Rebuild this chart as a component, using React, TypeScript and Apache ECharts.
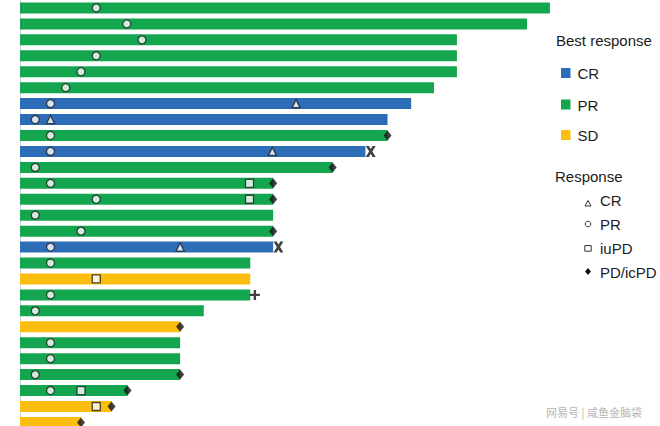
import React, { useEffect, useRef } from "react";
import * as echarts from "echarts";

// Patients (rows, top to bottom)
const patients = Array.from({ length: 27 }, (_, i) => `P${i + 1}`);
// Best overall response per patient
const bestResponse = ["PR","PR","PR","PR","PR","PR","CR","CR","PR","CR","PR","PR","PR","PR","PR","CR","PR","SD","PR","PR","SD","PR","PR","PR","PR","SD","SD"];
// Duration on treatment (months)
const duration = [34.75, 33.25, 28.65, 28.65, 28.65, 27.15, 25.65, 24.1, 24.1, 22.65, 20.5, 16.6, 16.6, 16.6, 16.6, 16.6, 15.1, 15.1, 15.1, 12.05, 10.5, 10.5, 10.5, 10.5, 7.05, 6.0, 4.0];
// Response events (time, null = none)
const prTime = [5, 7, 8, 5, 4, 3, 2, 1, 2, 2, 1, 2, 5, 1, 4, 2, 2, null, 2, 1, null, 2, 2, 1, 2, null, null];
const crTime = [null, null, null, null, null, null, 18.1, 2, null, 16.55, null, null, null, null, null, 10.5, null, null, null, null, null, null, null, null, null, null, null];
const iuPDTime = [null, null, null, null, null, null, null, null, null, null, null, 15.05, 15.05, null, null, null, null, 5, null, null, null, null, null, null, 4, 5, null];
const pdTime = [null, null, null, null, null, null, null, null, 24.1, null, 20.5, 16.6, 16.6, null, 16.6, null, null, null, null, null, 10.5, null, null, 10.5, 7.05, 6.0, 4.0];
const deathTime = [null, null, null, null, null, null, null, null, null, 23.0, null, null, null, null, null, 16.95, null, null, null, null, null, null, null, null, null, null, null];
const otherTime = [null, null, null, null, null, null, null, null, null, null, null, null, null, null, null, null, null, null, 15.4, null, null, null, null, null, null, null, null];

const responseTypes = ["CR", "PR", "SD"];
const colors: Record<string, string> = { CR: "#2d6db8", PR: "#14a64f", SD: "#fbbe0f" };
const markerLegend = ["CR", "PR", "iuPD", "PD/icPD"];

const toPts = (arr: (number | null)[]) =>
  arr.map((v, i) => (v == null ? null : [v, i])).filter((p) => p != null);

const FONT = '"Liberation Sans", Arial, Helvetica, sans-serif';
const TXT = "#1c1c1c";

export default function App() {
  const ref = useRef<HTMLDivElement>(null);
  useEffect(() => {
    const chart = echarts.init(ref.current!, null, { renderer: "svg" });

    const barSeries = responseTypes.map((r) => ({
      type: "bar",
      name: r,
      data: duration.map((d, i) => (bestResponse[i] === r ? d : "-")),
      barWidth: 11,
      barGap: "-100%",
      itemStyle: { color: colors[r] },
      z: 2,
    }));

    const outline = { color: "#ffffff", borderColor: "#1f1f1f", borderWidth: 1.3 };

    const graphic: any[] = [
      { type: "text", x: 556, y: 40, style: { text: "Best response", fontSize: 15, fontFamily: FONT, fill: TXT, verticalAlign: "middle" } },
      { type: "text", x: 555, y: 176, style: { text: "Response", fontSize: 15, fontFamily: FONT, fill: TXT, verticalAlign: "middle" } },
      { type: "text", x: 546, y: 412, style: { text: "网易号 | 咸鱼金脑袋", fontSize: 11, fontFamily: '"Noto Sans CJK SC", sans-serif', fill: "#b5b5b5", verticalAlign: "middle" } },
    ];
    const brY = [73, 104.5, 135];
    responseTypes.forEach((r, k) => {
      graphic.push({ type: "rect", shape: { x: 561, y: brY[k] - 5, width: 9.5, height: 10 }, style: { fill: colors[r] } });
      graphic.push({ type: "text", x: 577.5, y: brY[k] + 0.5, style: { text: r, fontSize: 15, fontFamily: FONT, fill: TXT, verticalAlign: "middle" } });
    });
    const mY = [199.5, 223.5, 248, 272];
    markerLegend.forEach((m, k) => {
      graphic.push({ type: "text", x: 600, y: mY[k] + 0.5, style: { text: m, fontSize: 15, fontFamily: FONT, fill: TXT, verticalAlign: "middle" } });
    });
    const stroke = { fill: "#fff", stroke: "#333", lineWidth: 1 };
    graphic.push({ type: "polygon", shape: { points: [[588, 200.5], [591, 206], [585, 206]] }, style: stroke });
    graphic.push({ type: "circle", shape: { cx: 588, cy: 224, r: 2.8 }, style: stroke });
    graphic.push({ type: "rect", shape: { x: 584.8, y: 245.6, width: 6.4, height: 5.6 }, style: stroke });
    graphic.push({ type: "polygon", shape: { points: [[588, 268], [591, 271.5], [588, 275], [585, 271.5]] }, style: { fill: "#111" } });

    chart.setOption({
      animation: false,
      backgroundColor: "#ffffff",
      grid: { left: 20, top: 0, width: 549, height: 430.4, outerBoundsMode: "none", containLabel: false },
      xAxis: { type: "value", min: 0, max: 36, show: false, splitLine: { show: false } },
      yAxis: {
        type: "category",
        data: patients,
        inverse: true,
        axisLine: { show: true, lineStyle: { color: "#cdd5de", width: 1 } },
        axisTick: { show: false },
        axisLabel: { show: false },
        splitLine: { show: false },
      },
      series: [
        ...barSeries,
        { type: "scatter", name: "resp-PR", data: toPts(prTime), symbol: "circle", symbolSize: 8, itemStyle: outline, z: 5 },
        { type: "scatter", name: "resp-CR", data: toPts(crTime), symbol: "triangle", symbolSize: 8, itemStyle: outline, z: 5 },
        { type: "scatter", name: "resp-iuPD", data: toPts(iuPDTime), symbol: "rect", symbolSize: 8, itemStyle: outline, z: 5 },
        { type: "scatter", name: "resp-PD", data: toPts(pdTime), symbol: "diamond", symbolSize: [8, 10], itemStyle: { color: "#111" }, z: 5 },
        {
          type: "scatter", name: "death", data: toPts(deathTime),
          symbol: "path://M0,0 L3.2,0 L5,2.8 L6.8,0 L10,0 L6.6,5 L10,10 L6.8,10 L5,7.2 L3.2,10 L0,10 L3.4,5 Z",
          symbolSize: [10, 11], itemStyle: { color: "#111" }, z: 5,
        },
        {
          type: "scatter", name: "other", data: toPts(otherTime),
          symbol: "path://M3.8,0 H6.2 V3.8 H10 V6.2 H6.2 V10 H3.8 V6.2 H0 V3.8 H3.8 Z",
          symbolSize: 10, itemStyle: { color: "#111" }, z: 5,
        },
      ],
      graphic,
    });
    return () => chart.dispose();
  }, []);
  return <div ref={ref} style={{ position: "fixed", left: 0, top: 0, width: 660, height: 426 }} />;
}
